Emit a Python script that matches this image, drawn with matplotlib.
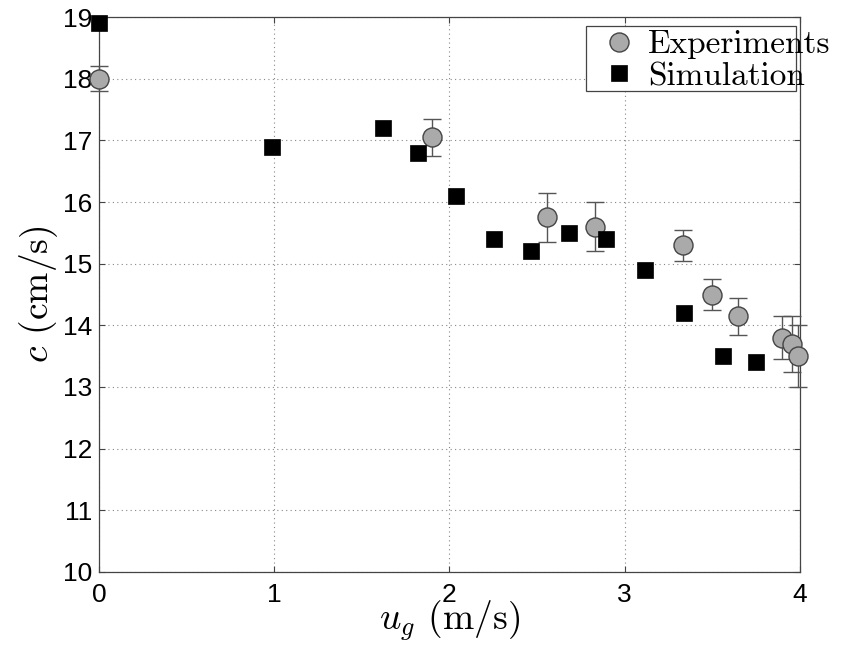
import matplotlib
matplotlib.use('Agg')
import matplotlib.pyplot as plt
from matplotlib.patches import Rectangle

plt.rcParams['mathtext.fontset'] = 'cm'

# Measured wave speed with error bars
exp_ug = [0.0, 1.90, 2.555, 2.83, 3.33, 3.50, 3.645, 3.895, 3.956, 3.987]
exp_c = [18.0, 17.05, 15.75, 15.6, 15.3, 14.5, 14.15, 13.8, 13.7, 13.5]
exp_err = [0.2, 0.3, 0.4, 0.4, 0.25, 0.25, 0.3, 0.35, 0.45, 0.5]

# Simulated wave speed
sim_ug = [0.0, 0.987, 1.62, 1.822, 2.035, 2.254, 2.465, 2.684, 2.895,
          3.116, 3.34, 3.559, 3.749]
sim_c = [18.9, 16.9, 17.2, 16.8, 16.1, 15.4, 15.2, 15.5, 15.4,
         14.9, 14.2, 13.5, 13.4]

xticks = [0, 1, 2, 3, 4]
yticks = list(range(10, 20))

fig = plt.figure(figsize=(8.46, 6.46), dpi=100)
ax = fig.add_axes([0.117, 0.1146, 0.8286, 0.859])

err = ax.errorbar(exp_ug, exp_c, yerr=exp_err, fmt='o', markersize=13.7,
                  markerfacecolor='#aaaaaa', markeredgecolor='#444444',
                  markeredgewidth=1.0, ecolor='#555555', elinewidth=1.0,
                  capsize=6.4, capthick=1.0, zorder=3, clip_on=False)
for art in err.get_children():
    art.set_clip_on(False)

sq, = ax.plot(sim_ug, sim_c, 's', markersize=11.3, markerfacecolor='black',
              markeredgecolor='black', markeredgewidth=0.5, zorder=4,
              clip_on=False)

ax.set_xlim(0, 4)
ax.set_ylim(10, 19)
ax.set_xticks(xticks)
ax.set_yticks(yticks)

ax.grid(True, color='#888888', linestyle=(0, (1, 3)), linewidth=0.8)
ax.set_axisbelow(True)
ax.tick_params(direction='in', length=4.3, width=0.8, color='#444444',
               top=True, right=True, labelsize=19)
ax.tick_params(axis='x', pad=8)
ax.tick_params(axis='y', pad=5)
for lbl in ax.get_xticklabels() + ax.get_yticklabels():
    lbl.set_fontfamily('Liberation Sans')
for s in ax.spines.values():
    s.set_color('#444444')
    s.set_linewidth(0.9)

ax.set_xlabel(r'$u_g$ (m/s)', fontfamily='cmr10', fontsize=27, labelpad=-6)
ax.set_ylabel(r'$c$ (cm/s)', fontfamily='cmr10', fontsize=27, labelpad=2)

# Legend box drawn separately so the labels can run past its edge
box = Rectangle((586 / 846, 1 - 91 / 646), 210 / 846, 65 / 646,
                transform=fig.transFigure, facecolor='white',
                edgecolor='#444444', linewidth=0.9, zorder=5, clip_on=False)
ax.add_artist(box)

leg = ax.legend([err[0], sq], ['Experiments', 'Simulation'],
                loc='upper left', bbox_to_anchor=(602 / 846, 1 - 30 / 646),
                bbox_transform=fig.transFigure, frameon=False, numpoints=1,
                handlelength=1.0, handletextpad=0.38, labelspacing=0.07,
                borderpad=0, borderaxespad=0,
                prop={'family': 'cmr10', 'size': 24})
leg.set_zorder(6)

fig.savefig('out.png', dpi=100)
plt.close(fig)
